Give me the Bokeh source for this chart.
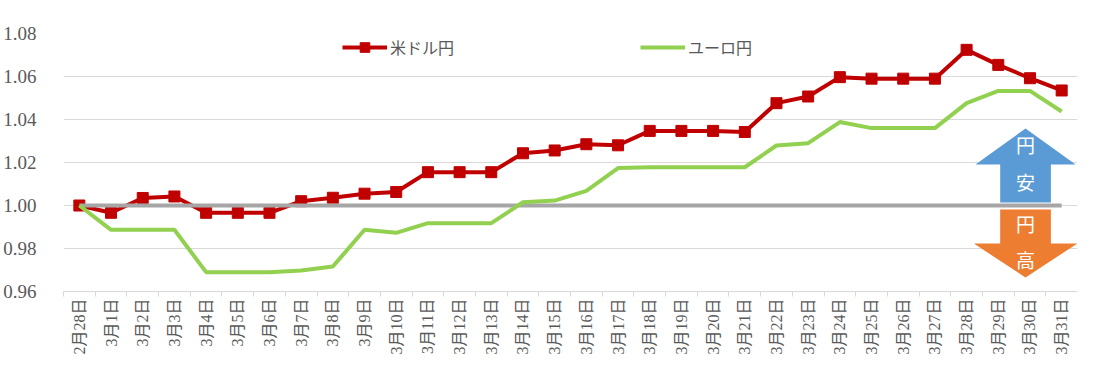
import math
from bokeh.plotting import figure
from bokeh.models import (Range1d, FixedTicker, NumeralTickFormatter, Legend,
                          LegendItem, PolyAnnotation, Label)
from bokeh.embed import file_html
from bokeh.resources import INLINE

# ---------------- data ----------------
dates = ["2月28日"] + [f"3月{d}日" for d in range(1, 32)]
usd_jpy = [1.000, 0.9966, 1.0035, 1.0042, 0.9966, 0.9966, 0.9966, 1.0020,
           1.0036, 1.0055, 1.0063, 1.0155, 1.0155, 1.0155, 1.0243, 1.0256,
           1.0285, 1.0280, 1.0347, 1.0347, 1.0347, 1.0342, 1.0476, 1.0507,
           1.0597, 1.0590, 1.0590, 1.0590, 1.0724, 1.0654, 1.0592, 1.0535]
eur_jpy = [1.000, 0.9887, 0.9887, 0.9887, 0.9690, 0.9690, 0.9690, 0.9698,
           0.9716, 0.9887, 0.9873, 0.9918, 0.9918, 0.9918, 1.0015, 1.0023,
           1.0068, 1.0174, 1.0178, 1.0178, 1.0178, 1.0178, 1.0279, 1.0290,
           1.0388, 1.0360, 1.0360, 1.0360, 1.0476, 1.0533, 1.0533, 1.0437]
base_line = [1.0] * len(dates)
yticks = [0.96, 0.98, 1.00, 1.02, 1.04, 1.06, 1.08]
series_names = ["米ドル円", "ユーロ円"]

TEXT = "#595959"
GRID = "#D9D9D9"
SERIF = "Liberation Serif"
CJK = "Liberation Serif, Noto Sans CJK JP"

n = len(dates)
x = [i + 0.5 for i in range(n)]

p = figure(width=1077, height=359, output_backend="svg", toolbar_location=None,
           x_range=Range1d(0, n), y_range=Range1d(yticks[0], yticks[-1]),
           min_border_left=61, min_border_right=0, min_border_top=33,
           min_border_bottom=68)
p.outline_line_color = None
p.background_fill_color = "white"

# grid
p.xgrid.grid_line_color = None
p.ygrid.ticker = FixedTicker(ticks=yticks)
p.ygrid.grid_line_color = GRID
p.ygrid.grid_line_width = 1

# y axis
p.yaxis.ticker = FixedTicker(ticks=yticks)
p.yaxis.formatter = NumeralTickFormatter(format="0.00")
p.yaxis.axis_line_color = None
p.yaxis.major_tick_line_color = None
p.yaxis.minor_tick_line_color = None
p.yaxis.major_label_text_font = SERIF
p.yaxis.major_label_text_font_size = "19px"
p.yaxis.major_label_text_color = TEXT
p.yaxis.major_label_standoff = 21

# x axis
p.xaxis.ticker = FixedTicker(ticks=x, minor_ticks=list(range(n + 1)))
p.xaxis.major_label_overrides = {float(xi): d for xi, d in zip(x, dates)}
p.xaxis.axis_line_color = GRID
p.xaxis.major_tick_in = 0
p.xaxis.major_tick_out = 0
p.xaxis.major_tick_line_color = None
p.xaxis.minor_tick_in = 0
p.xaxis.minor_tick_out = 5
p.xaxis.minor_tick_line_color = GRID
p.xaxis.major_label_orientation = math.pi / 2
p.xaxis.major_label_text_font = CJK
p.xaxis.major_label_text_font_size = "16px"
p.xaxis.major_label_text_color = TEXT
p.xaxis.major_label_standoff = 2

# series
r_usd_line = p.line(x, usd_jpy, line_color="#C00000", line_width=4)
r_usd_pts = p.scatter(x, usd_jpy, marker="square", size=11,
                      fill_color="#C00000", line_color="#C00000")
r_base = p.line(x, base_line, line_color="#A6A6A6", line_width=4)
r_eur = p.line(x, eur_jpy, line_color="#92D050", line_width=4)

legend = Legend(items=[LegendItem(label=series_names[0], renderers=[r_usd_line, r_usd_pts]),
                       LegendItem(label=series_names[1], renderers=[r_eur])],
                orientation="horizontal", location=(279, 232),
                spacing=186, glyph_width=45, glyph_height=24, label_height=24,
                label_standoff=3, padding=0, margin=0,
                border_line_color=None, background_fill_alpha=0,
                label_text_font="Noto Sans CJK JP", label_text_font_size="16px",
                label_text_color=TEXT)
p.add_layout(legend)

# yen weak / strong arrows (annotations)
cx = 30.36
hw, sw = 1.58, 0.8
up = PolyAnnotation(xs=[cx - sw, cx + sw, cx + sw, cx + hw, cx, cx - hw, cx - sw],
                    ys=[1.0014, 1.0014, 1.0191, 1.0191, 1.0358, 1.0191, 1.0191],
                    fill_color="#5B9BD5", fill_alpha=1, line_color=None)
down = PolyAnnotation(xs=[cx - sw, cx + sw, cx + sw, cx + hw + 0.05, cx, cx - hw - 0.05, cx - sw],
                      ys=[0.9981, 0.9981, 0.9823, 0.9823, 0.9665, 0.9823, 0.9823],
                      fill_color="#ED7D31", fill_alpha=1, line_color=None)
p.add_layout(up)
p.add_layout(down)
for ch, yv in [("円", 1.0284), ("安", 1.0112), ("円", 0.9916), ("高", 0.9749)]:
    p.add_layout(Label(x=cx, y=yv, text=ch, text_align="center", text_baseline="middle",
                       text_color="white", text_font="Noto Sans CJK JP",
                       text_font_size="19px"))

open("out.html", "w").write(file_html(p, INLINE))
